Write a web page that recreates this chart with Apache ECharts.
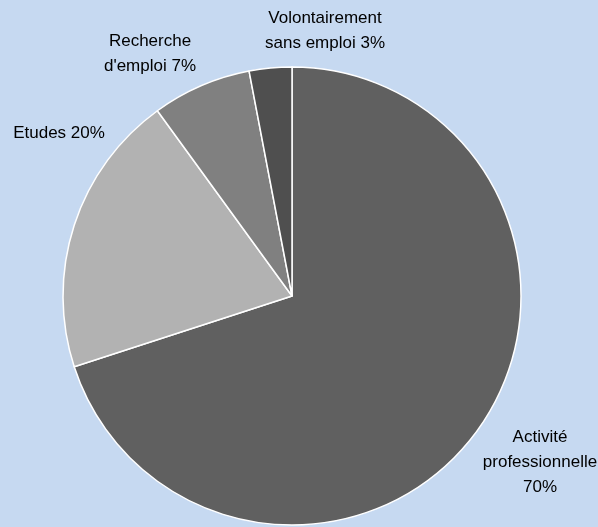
<!DOCTYPE html>
<html>
<head>
<meta charset="utf-8">
<script src="https://cdn.jsdelivr.net/npm/echarts@6/dist/echarts.min.js"></script>
<style>
  html, body { margin: 0; padding: 0; background: #c6d9f1; }
  #chart { width: 598px; height: 527px; }
</style>
</head>
<body>
<div id="chart"></div>
<script>
// données
var categories = ["Activité\nprofessionnelle\n70%", "Etudes 20%", "Recherche\nd'emploi 7%", "Volontairement\nsans emploi 3%"];
var values = [70, 20, 7, 3];
var colors = ["#606060", "#b2b2b2", "#808080", "#4f4f4f"];
// positions des étiquettes (centre du texte)
var labelPos = [[540, 462], [59, 133], [150, 54], [325, 31]];

var chart = echarts.init(document.getElementById("chart"));
var option = {
  backgroundColor: "#c6d9f1",
  animation: false,
  series: [
    {
      type: "pie",
      center: [292, 296],
      radius: 229,
      startAngle: 90,
      clockwise: true,
      data: values.map(function (v, i) {
        return { value: v, name: categories[i], itemStyle: { color: colors[i] } };
      }),
      itemStyle: {
        borderColor: "#ffffff",
        borderWidth: 1.5
      },
      label: {
        show: true,
        position: "outside",
        formatter: "{b}",
        color: "#000000",
        fontFamily: "'Liberation Sans Narrow', 'Arial Narrow', 'Liberation Sans', sans-serif",
        fontSize: 17,
        lineHeight: 25,
        align: "center",
        overflow: "none",
        width: 200,
        edgeDistance: 0,
        bleedMargin: 0
      },
      labelLine: { show: false },
      labelLayout: function (params) {
        var p = labelPos[params.dataIndex];
        return {
          x: p[0],
          y: p[1],
          align: "center",
          verticalAlign: "middle",
          hideOverlap: false
        };
      }
    }
  ]
};
chart.setOption(option);
</script>
</body>
</html>
